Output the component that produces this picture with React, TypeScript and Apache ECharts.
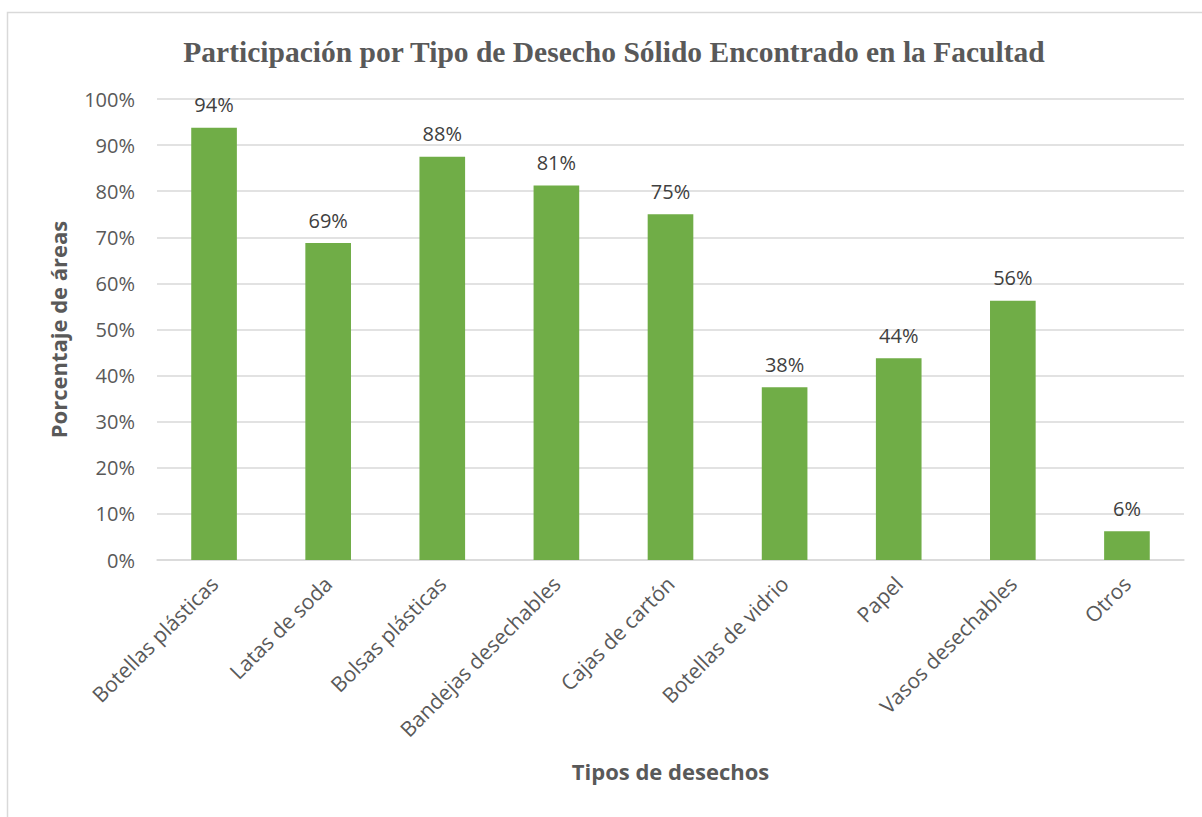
import React, { useEffect, useRef } from "react";
import * as echarts from "echarts";

const categories = [
  "Botellas plásticas",
  "Latas de soda",
  "Bolsas plásticas",
  "Bandejas desechables",
  "Cajas de cartón",
  "Botellas de vidrio",
  "Papel",
  "Vasos desechables",
  "Otros",
];
const values = [93.75, 68.75, 87.5, 81.25, 75, 37.5, 43.75, 56.25, 6.25];
const titleText = "Participación por Tipo de Desecho Sólido Encontrado en la Facultad";
const yName = "Porcentaje de áreas";
const xName = "Tipos de desechos";

const FONT = "'Open Sans', 'Noto Sans', sans-serif";
const GREY = "#595959";

export default function App() {
  const ref = useRef<HTMLDivElement>(null);
  useEffect(() => {
    if (!ref.current) return;
    const chart = echarts.init(ref.current, null, { renderer: "svg" });
    chart.setOption({
      animation: false,
      backgroundColor: "#ffffff",
      title: {
        text: titleText,
        left: 609,
        top: 32,
        textAlign: "center",
        textStyle: {
          fontFamily: "'Liberation Serif', 'DejaVu Serif', serif",
          fontWeight: "bold",
          fontSize: 29.5,
          color: GREY,
        },
      },
      graphic: [
        {
          type: "rect",
          shape: { x: 7.5, y: 12.5, width: 1400, height: 1000 },
          style: { fill: "none", stroke: "#d9d9d9", lineWidth: 1.5 },
          silent: true,
        },
      ],
      grid: { left: 157, right: 18, top: 99, bottom: 257, containLabel: false },
      xAxis: {
        type: "category",
        data: categories,
        name: xName,
        nameLocation: "middle",
        nameGap: 200,
        nameTextStyle: { fontFamily: FONT, fontWeight: "bold", fontSize: 22, color: GREY },
        axisLine: { lineStyle: { color: "#d9d9d9", width: 1.5 } },
        axisTick: { show: false },
        axisLabel: {
          interval: 0,
          rotate: 45,
          margin: 20,
          fontFamily: FONT,
          fontSize: 21,
          color: GREY,
        },
      },
      yAxis: {
        type: "value",
        min: 0,
        max: 100,
        interval: 10,
        name: yName,
        nameLocation: "middle",
        nameGap: 88,
        nameRotate: 90,
        nameTextStyle: { fontFamily: FONT, fontWeight: "bold", fontSize: 22, color: GREY },
        axisLine: { show: false },
        axisTick: { show: false },
        splitLine: { lineStyle: { color: "#d9d9d9", width: 1.5 } },
        axisLabel: {
          formatter: (v: number) => `${v}%`,
          margin: 22,
          fontFamily: FONT,
          fontSize: 20,
          color: GREY,
        },
      },
      series: [
        {
          type: "bar",
          data: values,
          barWidth: "40%",
          itemStyle: { color: "#70AD47" },
          label: {
            show: true,
            position: "top",
            distance: 13,
            formatter: (p: any) => `${Math.round(p.value)}%`,
            fontFamily: FONT,
            fontSize: 20,
            color: "#404040",
          },
        },
      ],
    });
    return () => chart.dispose();
  }, []);
  return (
    <div
      ref={ref}
      style={{ position: "absolute", left: 0, top: 0, width: 1202, height: 817 }}
    />
  );
}
